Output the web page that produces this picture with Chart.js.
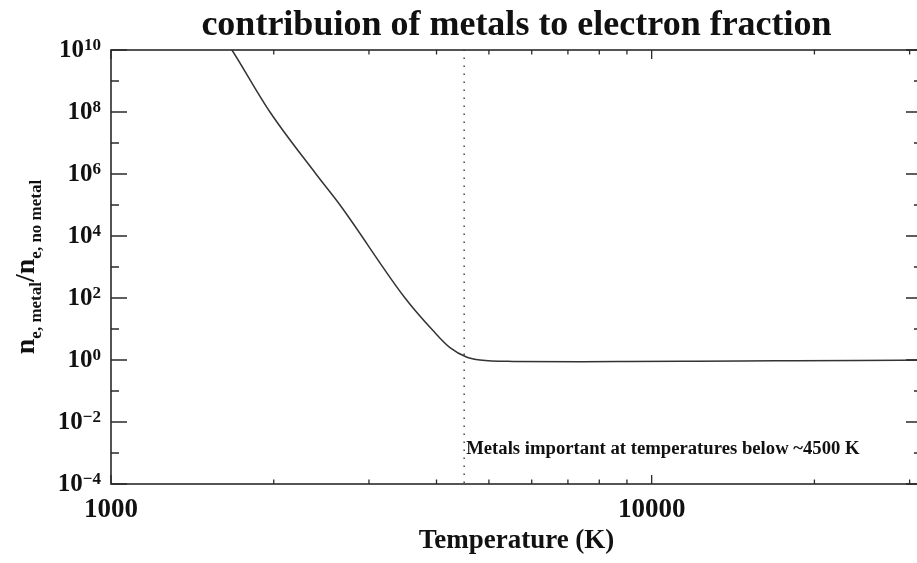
<!DOCTYPE html>
<html>
<head>
<meta charset="utf-8">
<script src="https://cdn.jsdelivr.net/npm/chart.js@4.4.1/dist/chart.umd.min.js"></script>
<style>
  html, body { margin: 0; padding: 0; background: #fff; overflow: hidden; }
  #wrap { width: 925px; height: 563px; }
</style>
</head>
<body>
<div id="wrap"><canvas id="myChart"></canvas></div>
<script>
const TITLE = 'contribuion of metals to electron fraction';
const X_TITLE = 'Temperature (K)';
const NOTE = 'Metals important at temperatures below ~4500 K';

// curve: temperature (K) -> n_e,metal / n_e,no metal
const TEMPERATURES = [1646, 1674, 1968, 2394, 2652, 3498, 3940, 4236, 4554, 4814, 5539, 7370, 9000, 12000, 17000, 24000, 31600];
const RATIOS = [1.56e10, 1e10, 1e8, 1e6, 1e5, 100, 8.9, 2.5, 1.23, 1.0, 0.90, 0.88, 0.89, 0.91, 0.94, 0.97, 1.0];

// dotted cut-off line
const CUTOFF_T = 4500;
const CUTOFF_Y = [1e-5, 1e11];

const X_TICKS = [1000, 2000, 3000, 4000, 5000, 6000, 7000, 8000, 9000, 10000, 20000, 30000];
const X_TICK_LABELS = ['1000', '', '', '', '', '', '', '', '', '10000', '', ''];

const Y_TICKS = [1e10, 1e9, 1e8, 1e7, 1e6, 1e5, 1e4, 1e3, 1e2, 1e1, 1e0, 1e-1, 1e-2, 1e-3, 1e-4];
const Y_TICK_EXP = ['10', '', '8', '', '6', '', '4', '', '2', '', '0', '', '\u22122', '', '\u22124'];

const SERIF = "'Liberation Serif', 'Times New Roman', serif";
const INK = '#111';

// frame, inward ticks, y labels with superscripts, y title with subscripts, note
const axisDecor = {
    id: 'axisDecor',
    afterDatasetsDraw(chart) {
        const {ctx, chartArea: a, scales: {x, y}} = chart;
        ctx.save();
        ctx.strokeStyle = '#2a2a2a';
        ctx.lineWidth = 1.6;
        ctx.strokeRect(a.left, a.top, a.right - a.left, a.bottom - a.top);

        ctx.lineWidth = 1.3;
        ctx.beginPath();
        X_TICKS.forEach((v, i) => {
            const px = x.getPixelForValue(v);
            const len = X_TICK_LABELS[i] ? 9 : 4.5;
            ctx.moveTo(px, a.bottom); ctx.lineTo(px, a.bottom - len);
            ctx.moveTo(px, a.top); ctx.lineTo(px, a.top + len);
        });
        Y_TICKS.forEach((v, i) => {
            const py = y.getPixelForValue(v);
            const len = Y_TICK_EXP[i] ? 16 : 8;
            ctx.moveTo(a.left, py); ctx.lineTo(a.left + len, py);
            ctx.moveTo(a.right, py); ctx.lineTo(a.right - len, py);
        });
        ctx.stroke();

        // y tick labels: 10 with exponent
        ctx.fillStyle = INK;
        ctx.textAlign = 'left';
        Y_TICKS.forEach((v, i) => {
            const exp = Y_TICK_EXP[i];
            if (!exp) return;
            const py = y.getPixelForValue(v);
            ctx.font = `bold 17px ${SERIF}`;
            const ew = ctx.measureText(exp).width;
            ctx.font = `bold 25px ${SERIF}`;
            const bw = ctx.measureText('10').width;
            const right = a.left - 10;
            ctx.textBaseline = 'middle';
            ctx.fillText('10', right - ew - bw, py + 1);
            ctx.font = `bold 17px ${SERIF}`;
            ctx.textBaseline = 'alphabetic';
            ctx.fillText(exp, right - ew, py);
        });

        // y title
        const parts = [
            {t: 'n', s: 28, dy: 0},
            {t: 'e, metal', s: 17, dy: 7},
            {t: '/', s: 28, dy: 0},
            {t: 'n', s: 28, dy: 0},
            {t: 'e, no metal', s: 17, dy: 7}
        ];
        let total = 0;
        parts.forEach(p => { ctx.font = `bold ${p.s}px ${SERIF}`; p.w = ctx.measureText(p.t).width; total += p.w; });
        ctx.translate(34, (a.top + a.bottom) / 2);
        ctx.rotate(-Math.PI / 2);
        ctx.textBaseline = 'alphabetic';
        let cx = -total / 2;
        parts.forEach(p => {
            ctx.font = `bold ${p.s}px ${SERIF}`;
            ctx.fillText(p.t, cx, p.dy);
            cx += p.w;
        });
        ctx.restore();

        ctx.save();
        ctx.fillStyle = INK;
        ctx.font = `bold 18.7px ${SERIF}`;
        ctx.textAlign = 'left';
        ctx.textBaseline = 'alphabetic';
        ctx.fillText(NOTE, x.getPixelForValue(CUTOFF_T) + 2, a.bottom - 30);
        ctx.restore();
    }
};

const config = {
    type: 'line',
    data: {
        datasets: [
            {
                label: 'ratio',
                data: TEMPERATURES.map((t, i) => ({x: t, y: RATIOS[i]})),
                borderColor: '#333',
                borderWidth: 1.5,
                pointRadius: 0,
                cubicInterpolationMode: 'monotone',
                fill: false
            },
            {
                label: 'cutoff',
                data: CUTOFF_Y.map(v => ({x: CUTOFF_T, y: v})),
                borderColor: '#555',
                borderWidth: 1.6,
                borderDash: [1.6, 6.4],
                pointRadius: 0,
                fill: false
            }
        ]
    },
    options: {
        responsive: true,
        maintainAspectRatio: false,
        animation: false,
        layout: { padding: { left: 111, right: 3, top: 0, bottom: 0 } },
        plugins: {
            legend: { display: false },
            tooltip: { enabled: false },
            title: {
                display: true,
                text: TITLE,
                color: INK,
                font: { family: SERIF, size: 36, weight: 'bold', lineHeight: 1.2 },
                padding: { top: 4.5, bottom: 2.3 }
            }
        },
        scales: {
            x: {
                type: 'logarithmic',
                min: 1000,
                max: 31623,
                position: 'bottom',
                afterBuildTicks: s => { s.ticks = X_TICKS.map(v => ({value: v})); },
                ticks: {
                    autoSkip: false,
                    maxRotation: 0,
                    padding: 13,
                    color: INK,
                    font: { family: SERIF, size: 27, weight: 'bold', lineHeight: 1 },
                    callback: (v, i) => X_TICK_LABELS[i]
                },
                grid: { display: false, drawTicks: false },
                border: { display: false },
                title: {
                    display: true,
                    text: X_TITLE,
                    color: INK,
                    font: { family: SERIF, size: 27, weight: 'bold', lineHeight: 1 },
                    padding: { top: -9.5, bottom: 8.5 }
                }
            },
            y: {
                type: 'logarithmic',
                min: 1e-4,
                max: 1e10,
                display: false
            }
        }
    },
    plugins: [axisDecor]
};

const myChart = new Chart(document.getElementById('myChart'), config);
</script>
</body>
</html>
